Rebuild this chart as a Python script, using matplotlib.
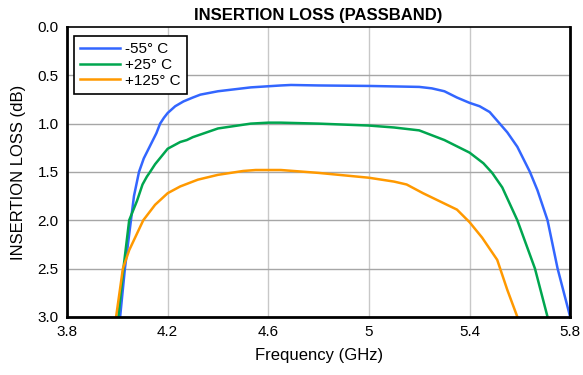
import matplotlib
matplotlib.use("Agg")
import matplotlib.pyplot as plt

plt.rcParams['font.family'] = ['Liberation Sans', 'DejaVu Sans']

f_m55 = [4.011, 4.03, 4.054, 4.066, 4.086, 4.105, 4.13, 4.155, 4.17, 4.185, 4.2, 4.23, 4.263, 4.3, 4.33, 4.4, 4.53, 4.65, 4.69, 4.8, 5.0, 5.2, 5.25, 5.3, 5.35, 5.4, 5.44, 5.48, 5.52, 5.55, 5.59, 5.64, 5.67, 5.71, 5.75, 5.8]
il_m55 = [3.0, 2.5, 2.0, 1.75, 1.5, 1.36, 1.23, 1.1, 1.0, 0.94, 0.89, 0.82, 0.77, 0.73, 0.70, 0.665, 0.625, 0.605, 0.60, 0.605, 0.61, 0.62, 0.635, 0.665, 0.73, 0.785, 0.82, 0.88, 1.0, 1.09, 1.24, 1.5, 1.69, 2.0, 2.5, 3.0]

f_25 = [4.004, 4.024, 4.047, 4.078, 4.1, 4.117, 4.13, 4.15, 4.2, 4.25, 4.276, 4.3, 4.4, 4.53, 4.6, 4.65, 4.8, 5.0, 5.1, 5.2, 5.3, 5.4, 5.455, 5.49, 5.53, 5.59, 5.625, 5.66, 5.71]
il_25 = [3.0, 2.5, 2.0, 1.8, 1.63, 1.55, 1.5, 1.42, 1.26, 1.19, 1.17, 1.14, 1.05, 1.0, 0.99, 0.99, 1.0, 1.02, 1.04, 1.07, 1.17, 1.3, 1.41, 1.51, 1.66, 2.0, 2.25, 2.5, 3.0]

f_125 = [3.995, 4.022, 4.047, 4.103, 4.15, 4.2, 4.25, 4.32, 4.4, 4.5, 4.55, 4.65, 4.8, 5.0, 5.1, 5.15, 5.215, 5.35, 5.4, 5.45, 5.51, 5.55, 5.59]
il_125 = [3.0, 2.5, 2.31, 2.0, 1.84, 1.72, 1.65, 1.58, 1.53, 1.49, 1.48, 1.48, 1.51, 1.56, 1.6, 1.63, 1.72, 1.89, 2.02, 2.18, 2.41, 2.72, 3.0]

labels = ['-55° C', '+25° C', '+125° C']
colors = ['#3366ff', '#00a64f', '#ff9900']

xticks = [3.8, 4.2, 4.6, 5.0, 5.4, 5.8]
xticklabels = ['3.8', '4.2', '4.6', '5', '5.4', '5.8']
yticks = [0.0, 0.5, 1.0, 1.5, 2.0, 2.5, 3.0]

fig = plt.figure(figsize=(5.83, 3.75), dpi=100)
ax = fig.add_axes([0.115, 0.155, 0.863, 0.773])

for f, il, lab, c in zip([f_m55, f_25, f_125], [il_m55, il_25, il_125], labels, colors):
    ax.plot(f, il, color=c, lw=1.8, label=lab, solid_joinstyle='round')

ax.set_xlim(3.8, 5.8)
ax.set_ylim(3.0, 0.0)
ax.set_xticks(xticks)
ax.set_xticklabels(xticklabels)
ax.set_yticks(yticks)
ax.set_yticklabels([f'{v:.1f}' for v in yticks])
ax.tick_params(length=0, labelsize=11, pad=6)

for v in xticks[1:-1]:
    ax.axvline(v, color='#c8c8c8', lw=1.0, zorder=0)
for v in yticks[1:-1]:
    ax.axhline(v, color='#a6a6a6', lw=1.0, zorder=0)

for s in ax.spines.values():
    s.set_color('black')
    s.set_linewidth(1.2)
ax.spines['left'].set_linewidth(2)
ax.spines['bottom'].set_linewidth(2)
ax.spines['right'].set_linewidth(2)

ax.set_title('INSERTION LOSS (PASSBAND)', fontsize=12, fontweight='bold', pad=5)
ax.set_xlabel('Frequency (GHz)', fontsize=12, labelpad=6)
ax.set_ylabel('INSERTION LOSS (dB)', fontsize=12, labelpad=8)

leg = ax.legend(loc='upper left', bbox_to_anchor=(0.014, 0.969), fontsize=11,
                frameon=True, fancybox=False, edgecolor='black', framealpha=1,
                borderpad=0.4, labelspacing=0.12, handlelength=2.6, handletextpad=0.35,
                borderaxespad=0)
leg.get_frame().set_linewidth(1.2)

fig.savefig('out.png', dpi=100)
